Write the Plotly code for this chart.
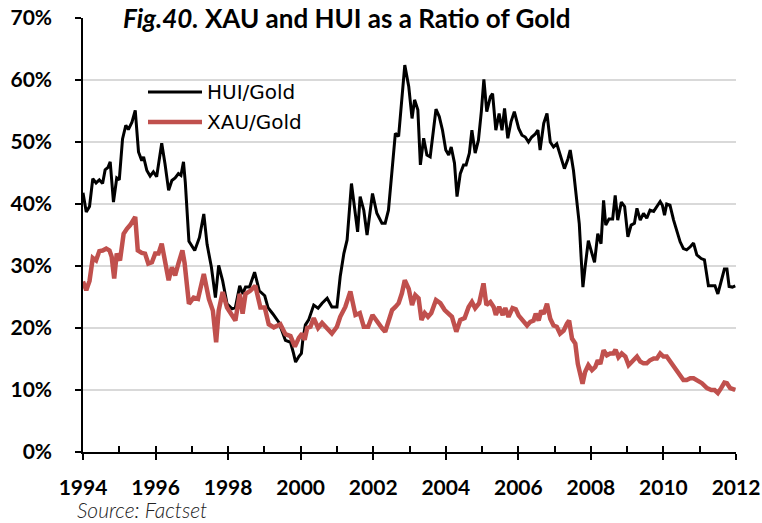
import plotly.graph_objects as go

# HUI/Gold ratio (%), sampled by decimal year
hui_t = [1994.00, 1994.09, 1994.18, 1994.27, 1994.36, 1994.45, 1994.54, 1994.61, 1994.69, 1994.75,
         1994.84, 1994.93, 1995.00, 1995.09, 1995.18, 1995.25, 1995.35, 1995.44, 1995.53, 1995.62,
         1995.67, 1995.76, 1995.85, 1995.94, 1996.03, 1996.17, 1996.26, 1996.36, 1996.45, 1996.54,
         1996.63, 1996.70, 1996.77, 1996.82, 1996.92, 1997.08, 1997.21, 1997.33, 1997.42, 1997.54,
         1997.65, 1997.74, 1997.85, 1997.97, 1998.11, 1998.20, 1998.32, 1998.40, 1998.48, 1998.59,
         1998.73, 1998.86, 1999.01, 1999.10, 1999.23, 1999.40, 1999.58, 1999.72, 1999.80, 1999.86,
         1999.95, 2000.02, 2000.06, 2000.13, 2000.22, 2000.36, 2000.48, 2000.59, 2000.73, 2000.86,
         2001.00, 2001.09, 2001.19, 2001.28, 2001.40, 2001.49, 2001.57, 2001.64, 2001.74, 2001.83,
         2001.98, 2002.10, 2002.24, 2002.33, 2002.42, 2002.52, 2002.61, 2002.70, 2002.79, 2002.87,
         2002.98, 2003.07, 2003.14, 2003.23, 2003.30, 2003.39, 2003.48, 2003.57, 2003.66, 2003.73,
         2003.82, 2003.91, 2004.00, 2004.08, 2004.15, 2004.24, 2004.31, 2004.40, 2004.49, 2004.56,
         2004.65, 2004.72, 2004.81, 2004.90, 2004.98, 2005.05, 2005.13, 2005.23, 2005.29, 2005.38,
         2005.47, 2005.55, 2005.62, 2005.71, 2005.80, 2005.89, 2006.01, 2006.10, 2006.19, 2006.28,
         2006.37, 2006.47, 2006.54, 2006.60, 2006.70, 2006.79, 2006.88, 2006.97, 2007.06, 2007.15,
         2007.27, 2007.37, 2007.43, 2007.52, 2007.61, 2007.68, 2007.73, 2007.78, 2007.84, 2007.93,
         2008.03, 2008.10, 2008.19, 2008.28, 2008.35, 2008.41, 2008.50, 2008.60, 2008.67, 2008.74,
         2008.84, 2008.93, 2009.02, 2009.11, 2009.20, 2009.27, 2009.36, 2009.45, 2009.54, 2009.63,
         2009.73, 2009.82, 2009.91, 2009.97, 2010.03, 2010.09, 2010.18, 2010.28, 2010.37, 2010.46,
         2010.55, 2010.64, 2010.74, 2010.83, 2010.92, 2011.04, 2011.13, 2011.20, 2011.24, 2011.33,
         2011.42, 2011.50, 2011.59, 2011.68, 2011.75, 2011.81, 2011.90, 2011.98]
hui_v = [41.8, 38.7, 39.6, 44.1, 43.4, 43.9, 43.3, 45.5, 45.9, 46.8,
         40.3, 44.2, 43.9, 50.5, 52.7, 52.0, 53.2, 55.1, 48.4, 47.0,
         47.6, 45.4, 44.5, 45.2, 44.4, 49.8, 46.5, 42.2, 43.8, 44.2,
         44.9, 44.6, 46.8, 43.5, 34.0, 32.5, 34.6, 38.4, 33.5, 29.8,
         24.9, 30.1, 27.6, 23.9, 23.1, 23.3, 26.8, 25.5, 26.6, 26.6,
         29.0, 26.0, 25.2, 23.3, 22.3, 20.9, 18.0, 17.7, 16.0, 14.5,
         15.4, 15.9, 18.1, 20.5, 21.3, 23.7, 23.2, 24.0, 24.8, 23.4,
         23.4, 28.3, 32.0, 34.2, 43.3, 39.6, 35.5, 41.2, 39.0, 35.0,
         41.7, 38.5, 36.9, 36.9, 39.0, 45.5, 51.4, 50.9, 57.8, 62.4,
         58.9, 53.8, 56.8, 55.2, 46.3, 50.6, 47.9, 47.6, 51.9, 55.3,
         54.1, 51.9, 48.7, 47.9, 49.2, 46.6, 41.2, 44.9, 46.3, 46.3,
         48.2, 51.9, 48.2, 50.3, 54.9, 60.1, 54.9, 57.3, 57.8, 51.9,
         54.6, 51.9, 55.4, 50.6, 53.3, 54.9, 52.2, 51.1, 50.8, 50.0,
         50.8, 51.3, 51.9, 48.7, 53.0, 54.6, 50.0, 49.2, 49.7, 48.1,
         45.7, 47.3, 48.7, 45.4, 41.1, 36.8, 31.5, 26.6, 29.8, 34.1,
         32.0, 30.6, 35.2, 33.6, 40.6, 36.6, 37.6, 37.6, 41.4, 37.4,
         40.3, 39.6, 34.7, 36.6, 36.9, 39.3, 37.4, 38.5, 37.7, 39.0,
         38.8, 39.6, 40.4, 39.8, 38.2, 40.0, 39.8, 37.4, 35.5, 33.9,
         32.8, 32.6, 33.1, 33.7, 31.8, 31.2, 31.0, 28.5, 26.8, 26.8,
         26.8, 25.5, 27.5, 29.5, 29.5, 26.7, 26.6, 26.8]

# XAU/Gold ratio (%), sampled by decimal year
xau_t = [1994.00, 1994.09, 1994.18, 1994.27, 1994.36, 1994.45, 1994.54, 1994.64, 1994.73, 1994.79,
         1994.86, 1994.93, 1995.02, 1995.12, 1995.21, 1995.30, 1995.44, 1995.51, 1995.62, 1995.71,
         1995.80, 1995.90, 1995.99, 1996.08, 1996.17, 1996.26, 1996.36, 1996.45, 1996.54, 1996.63,
         1996.74, 1996.80, 1996.92, 1997.05, 1997.17, 1997.33, 1997.47, 1997.58, 1997.67, 1997.74,
         1997.85, 1997.97, 1998.11, 1998.20, 1998.32, 1998.40, 1998.48, 1998.61, 1998.75, 1998.89,
         1999.01, 1999.12, 1999.26, 1999.44, 1999.58, 1999.72, 1999.84, 1999.95, 2000.04, 2000.11,
         2000.18, 2000.27, 2000.36, 2000.48, 2000.59, 2000.73, 2000.86, 2001.00, 2001.09, 2001.23,
         2001.37, 2001.51, 2001.63, 2001.74, 2001.86, 2001.98, 2002.10, 2002.24, 2002.33, 2002.42,
         2002.52, 2002.61, 2002.70, 2002.79, 2002.87, 2002.98, 2003.07, 2003.16, 2003.25, 2003.33,
         2003.42, 2003.51, 2003.60, 2003.73, 2003.85, 2003.97, 2004.08, 2004.17, 2004.29, 2004.40,
         2004.52, 2004.63, 2004.72, 2004.81, 2004.92, 2005.04, 2005.12, 2005.23, 2005.32, 2005.38,
         2005.47, 2005.57, 2005.64, 2005.73, 2005.84, 2005.93, 2006.01, 2006.12, 2006.24, 2006.33,
         2006.42, 2006.48, 2006.56, 2006.63, 2006.70, 2006.79, 2006.88, 2006.97, 2007.06, 2007.15,
         2007.25, 2007.34, 2007.40, 2007.48, 2007.57, 2007.64, 2007.71, 2007.77, 2007.84, 2007.93,
         2008.03, 2008.12, 2008.19, 2008.26, 2008.35, 2008.44, 2008.53, 2008.62, 2008.68, 2008.76,
         2008.85, 2008.95, 2009.04, 2009.13, 2009.27, 2009.36, 2009.45, 2009.54, 2009.63, 2009.73,
         2009.82, 2009.91, 2010.00, 2010.09, 2010.18, 2010.28, 2010.37, 2010.46, 2010.55, 2010.64,
         2010.74, 2010.83, 2010.92, 2011.06, 2011.20, 2011.32, 2011.41, 2011.50, 2011.59, 2011.68,
         2011.75, 2011.84, 2011.98]
xau_v = [27.5, 26.1, 27.6, 31.3, 30.9, 32.4, 32.5, 32.8, 32.5, 31.5,
         28.0, 32.0, 30.9, 35.2, 36.0, 36.6, 37.9, 32.5, 32.1, 32.0,
         30.4, 30.6, 32.0, 32.0, 33.6, 30.4, 27.7, 29.8, 28.5, 30.4,
         32.5, 30.5, 23.9, 24.9, 24.7, 28.7, 24.7, 22.8, 17.7, 22.8,
         25.8, 23.3, 22.0, 21.2, 25.5, 22.3, 25.5, 26.0, 26.8, 23.3,
         23.3, 20.6, 20.1, 20.6, 19.0, 18.7, 17.0, 18.4, 19.1, 18.1,
         20.0, 20.2, 21.6, 20.0, 20.8, 20.0, 19.1, 20.2, 21.8, 23.4,
         25.9, 22.1, 22.4, 20.2, 20.2, 22.1, 21.0, 20.0, 19.4, 21.3,
         22.9, 23.4, 24.0, 25.6, 27.7, 26.3, 23.7, 25.3, 24.8, 21.3,
         22.4, 21.8, 22.4, 24.5, 24.0, 22.9, 22.4, 21.8, 19.4, 21.3,
         21.6, 23.4, 24.2, 23.2, 24.0, 27.2, 23.7, 24.2, 23.4, 22.1,
         23.4, 22.1, 23.2, 21.8, 23.2, 23.0, 22.0, 21.2, 20.4, 21.0,
         21.2, 22.3, 21.2, 22.8, 22.3, 23.9, 21.5, 20.4, 20.2, 19.1,
         19.6, 20.7, 21.2, 18.3, 17.5, 14.2, 12.1, 11.0, 12.9, 14.0,
         13.2, 13.7, 14.8, 14.2, 16.4, 15.6, 15.9, 15.9, 16.5, 15.3,
         15.9, 15.4, 14.0, 14.6, 15.4, 14.6, 14.3, 14.3, 14.8, 15.1,
         15.1, 15.9, 15.4, 15.4, 14.6, 13.8, 13.2, 12.4, 11.6, 11.6,
         11.9, 11.9, 11.6, 11.1, 10.3, 10.0, 10.0, 9.5, 10.3, 11.2,
         11.1, 10.3, 10.0]

series_names = ["HUI/Gold", "XAU/Gold"]
series_colors = ["#000000", "#C0504D"]
series_widths = [3, 4.5]

title_text = "<i>Fig.40.</i> XAU and HUI as a Ratio of Gold"
source_text = "Source: Factset"

W, H = 762, 523
M_L, M_R, M_T, M_B = 83, 26, 18, 71
PW = W - M_L - M_R
PH = H - M_T - M_B


def px_x(px):
    return (px - M_L) / PW


def px_y(py):
    return (H - M_B - py) / PH


fig = go.Figure()
fig.add_trace(go.Scatter(x=hui_t, y=hui_v, mode="lines", name=series_names[0],
                         line=dict(color=series_colors[0], width=series_widths[0])))
fig.add_trace(go.Scatter(x=xau_t, y=xau_v, mode="lines", name=series_names[1],
                         line=dict(color=series_colors[1], width=series_widths[1])))
# invisible trace carrying the yearly minor ticks on an overlaid axis
fig.add_trace(go.Scatter(x=[1994, 2012], y=[None, None], xaxis="x2", showlegend=False,
                         hoverinfo="skip"))

tick_font = dict(family="Lato", size=21, color="#000000", weight="bold")

fig.update_layout(
    width=W, height=H,
    margin=dict(l=M_L, r=M_R, t=M_T, b=M_B, autoexpand=False),
    paper_bgcolor="white", plot_bgcolor="white",
    showlegend=False,
    title=dict(text=title_text, x=123 / W, xanchor="left", y=1 - 19 / H, yanchor="middle",
               font=dict(family="Lato", size=26, color="#000000", weight="bold")),
    xaxis=dict(range=[1994, 2012], tick0=1994, dtick=2, showgrid=False, zeroline=False,
               showline=True, linecolor="#000000", linewidth=1.5, automargin=False,
               ticks="outside", ticklen=6, tickwidth=1.5, tickcolor="#000000",
               tickfont=tick_font, ticklabelstandoff=10),
    xaxis2=dict(range=[1994, 2012], overlaying="x", anchor="y", side="bottom",
                tick0=1994, dtick=1, showgrid=False, zeroline=False, showline=False,
                ticks="inside", ticklen=6, tickwidth=1.5, tickcolor="#000000",
                showticklabels=False, automargin=False),
    yaxis=dict(range=[0, 70], dtick=10, ticksuffix="%", showgrid=True,
               gridcolor="#d9d9d9", gridwidth=2, zeroline=False, automargin=False,
               showline=True, linecolor="#000000", linewidth=1.5,
               ticks="outside", ticklen=6, tickwidth=1.5, tickcolor="#000000",
               tickfont=tick_font, ticklabelstandoff=19),
)

# legend drawn as line samples plus labels inside the plot area
legend_rows = [92, 122]
for name, color, width, row in zip(series_names, series_colors, series_widths, legend_rows):
    fig.add_shape(type="line", xref="paper", yref="paper",
                  x0=px_x(148), x1=px_x(202), y0=px_y(row), y1=px_y(row),
                  line=dict(color=color, width=width))
    fig.add_annotation(text=name, xref="paper", yref="paper", x=px_x(205), y=px_y(row),
                       xanchor="left", yanchor="middle", showarrow=False,
                       font=dict(family="DejaVu Sans", size=20, color="#000000"))

fig.add_annotation(text=source_text, xref="paper", yref="paper", x=px_x(75), y=px_y(509),
                   xanchor="left", yanchor="middle", showarrow=False,
                   font=dict(family="Lato", size=21, color="#222222", style="italic",
                             weight=300))

fig.write_html("out.html")
